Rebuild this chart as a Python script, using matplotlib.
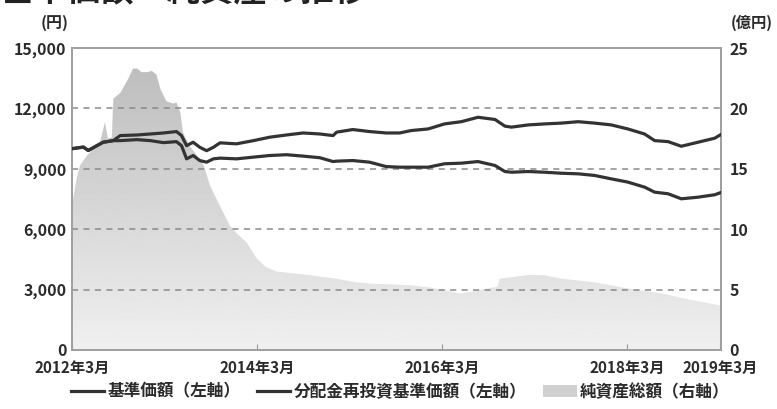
import numpy as np
import pandas as pd
import matplotlib
matplotlib.use("Agg")
import matplotlib.pyplot as plt
from matplotlib.lines import Line2D
from matplotlib.patches import Patch

plt.rcParams['font.family'] = ['Noto Sans CJK JP', 'DejaVu Sans']

# 基準価額 / 分配金再投資基準価額 (円)
line_dates = ["2012-03-01", "2012-04-15", "2012-05-04", "2012-06-07", "2012-07-02",
              "2012-08-11", "2012-09-07", "2012-11-12", "2013-01-04", "2013-02-25",
              "2013-04-17", "2013-05-07", "2013-05-27", "2013-06-22", "2013-07-18",
              "2013-08-14", "2013-09-10", "2013-10-06", "2013-12-10", "2014-02-15",
              "2014-04-20", "2014-06-25", "2014-08-30", "2014-11-04", "2014-12-26",
              "2015-01-09", "2015-03-14", "2015-05-19", "2015-07-24", "2015-09-15",
              "2015-10-30", "2016-01-05", "2016-03-10", "2016-05-15", "2016-07-20",
              "2016-09-25", "2016-11-03", "2016-11-29", "2017-02-03", "2017-04-09",
              "2017-06-14", "2017-08-19", "2017-10-23", "2017-12-28", "2018-03-03",
              "2018-05-08", "2018-06-17", "2018-08-09", "2018-09-30", "2018-12-05",
              "2019-02-09", "2019-03-05"]
reinvest = [10000, 10080, 9910, 10150, 10320, 10400, 10650, 10680, 10730, 10780,
            10850, 10650, 10150, 10320, 10070, 9900, 10070, 10290, 10240, 10400,
            10570, 10680, 10780, 10730, 10650, 10820, 10950, 10850, 10780, 10780,
            10900, 10980, 11230, 11340, 11560, 11450, 11120, 11070, 11180, 11230,
            11270, 11340, 11270, 11180, 10980, 10730, 10400, 10350, 10120, 10320,
            10520, 10700]
nav = [10000, 10080, 9910, 10150, 10320, 10400, 10400, 10450, 10400, 10300,
       10350, 10150, 9495, 9660, 9410, 9330, 9495, 9530, 9495, 9580,
       9660, 9700, 9630, 9550, 9360, 9380, 9410, 9330, 9110, 9080,
       9080, 9080, 9250, 9280, 9360, 9165, 8865, 8830, 8865, 8830,
       8780, 8750, 8670, 8500, 8340, 8090, 7840, 7760, 7510, 7590,
       7710, 7820]

# 純資産総額 (億円)
asset_dates = ["2012-03-01", "2012-03-19", "2012-04-02", "2012-04-29", "2012-06-19",
               "2012-07-09", "2012-07-21", "2012-08-05", "2012-08-11", "2012-09-08",
               "2012-10-10", "2012-10-28", "2012-11-13", "2012-11-30", "2012-12-22",
               "2013-01-10", "2013-01-28", "2013-02-13", "2013-03-08", "2013-04-03",
               "2013-04-17", "2013-05-02", "2013-05-13", "2013-06-08", "2013-07-07",
               "2013-08-02", "2013-08-28", "2013-09-22", "2013-10-18", "2013-11-14",
               "2013-12-11", "2014-01-19", "2014-02-27", "2014-04-03", "2014-05-16",
               "2014-09-01", "2015-01-10", "2015-03-26", "2015-05-19", "2015-09-15",
               "2015-11-01", "2016-01-06", "2016-03-11", "2016-05-13", "2016-07-21",
               "2016-09-25", "2016-10-06", "2016-10-13", "2017-01-31", "2017-04-07",
               "2017-06-15", "2017-10-24", "2018-03-01", "2018-07-11", "2018-11-19",
               "2019-03-01", "2019-03-05"]
assets = [12.0, 14.2, 15.3, 16.1, 17.2, 18.85, 17.5, 17.6, 20.8, 21.3,
          22.5, 23.3, 23.3, 23.0, 23.0, 23.1, 22.8, 21.6, 20.6, 20.4,
          20.5, 19.7, 18.0, 16.9, 16.1, 15.3, 13.6, 12.5, 11.4, 10.3,
          9.65, 8.9, 7.6, 6.9, 6.5, 6.25, 5.9, 5.6, 5.5, 5.4,
          5.35, 5.2, 4.95, 4.67, 4.95, 5.2, 5.25, 5.9, 6.2, 6.2,
          5.9, 5.6, 5.1, 4.7, 4.1, 3.7, 3.65]

tick_dates = ["2012-03-01", "2014-03-01", "2016-03-01", "2018-03-01", "2019-03-01"]
tick_labels = ["2012年3月", "2014年3月", "2016年3月", "2018年3月", "2019年3月"]
left_ticks = [0, 3000, 6000, 9000, 12000, 15000]
right_ticks = [0, 5, 10, 15, 20, 25]

ld = pd.to_datetime(line_dates)
ad = pd.to_datetime(asset_dates)
td = pd.to_datetime(tick_dates)
x0 = pd.Timestamp("2012-03-01")
x1 = pd.Timestamp("2019-03-06")

txt = "#2b2b2b"
fig = plt.figure(figsize=(7.77, 4.09), dpi=100)
ax = fig.add_axes([0.0927, 0.1443, 0.8353, 0.7383])
ax2 = ax.twinx()

# 純資産総額: グラデーションの塗り
poly = ax2.fill_between(ad, 0, assets, color="none", lw=0)
grad = np.linspace(0.94, 0.73, 256).reshape(-1, 1)
img = ax2.imshow(grad, cmap="gray", vmin=0, vmax=1, aspect="auto", origin="lower",
                 extent=[matplotlib.dates.date2num(x0), matplotlib.dates.date2num(x1), 0, 25],
                 zorder=1)
img.set_clip_path(poly.get_paths()[0], transform=ax2.transData)
ax2.set_ylim(0, 25)
ax2.set_xlim(x0, x1)

ax.set_zorder(ax2.get_zorder() + 1)
ax.patch.set_visible(False)

for v in left_ticks[1:-1]:
    ax.axhline(v, color="#8a8a8a", lw=1.1, dashes=(4, 3.5), zorder=2)
ax.plot(ld, reinvest, color="#333333", lw=2.3, zorder=3)
ax.plot(ld, nav, color="#333333", lw=2.3, zorder=3)
ax.set_ylim(0, 15000)
ax.set_xlim(x0, x1)

ax.set_yticks(left_ticks)
ax.set_yticklabels([f"{v:,}" for v in left_ticks], fontsize=11.5, color=txt, fontweight="bold")
ax2.set_yticks(right_ticks)
ax2.set_yticklabels([str(v) for v in right_ticks], fontsize=11.5, color=txt, fontweight="bold")
ax.set_xticks(td)
ax.set_xticklabels(tick_labels, fontsize=11, color=txt, fontweight="bold")
ax.tick_params(axis="y", length=0, pad=4)
ax2.tick_params(axis="y", length=0, pad=6)
ax.tick_params(axis="x", direction="in", length=4, color="#999999", pad=7)
ax2.tick_params(axis="x", length=0)

for a in (ax, ax2):
    for s in a.spines.values():
        s.set_color("#a0a0a0")
        s.set_linewidth(1.3)

fig.text(0.070, 0.945, "(円)", fontsize=11.5, color=txt, fontweight="bold", ha="center", va="center")
fig.text(0.967, 0.945, "(億円)", fontsize=11, color=txt, fontweight="bold", ha="center", va="center")
fig.text(0.0, 1.021, "基準価額・純資産の推移", fontsize=24, color="#222222",
         fontweight="bold", ha="left", va="center")

handles = [Line2D([], [], color="#333333", lw=2.3),
           Line2D([], [], color="#333333", lw=2.3),
           Patch(facecolor="#d0d0d0", edgecolor="none")]
labels = ["基準価額（左軸）", "分配金再投資基準価額（左軸）", "純資産総額（右軸）"]
fig.legend(handles, labels, loc="center", bbox_to_anchor=(0.515, 0.042), ncol=3,
           frameon=False, handlelength=2.0, handletextpad=0.2,
           columnspacing=1.0, labelcolor=txt, prop={"weight": "bold", "size": 12})

fig.savefig("out.png", dpi=100)
